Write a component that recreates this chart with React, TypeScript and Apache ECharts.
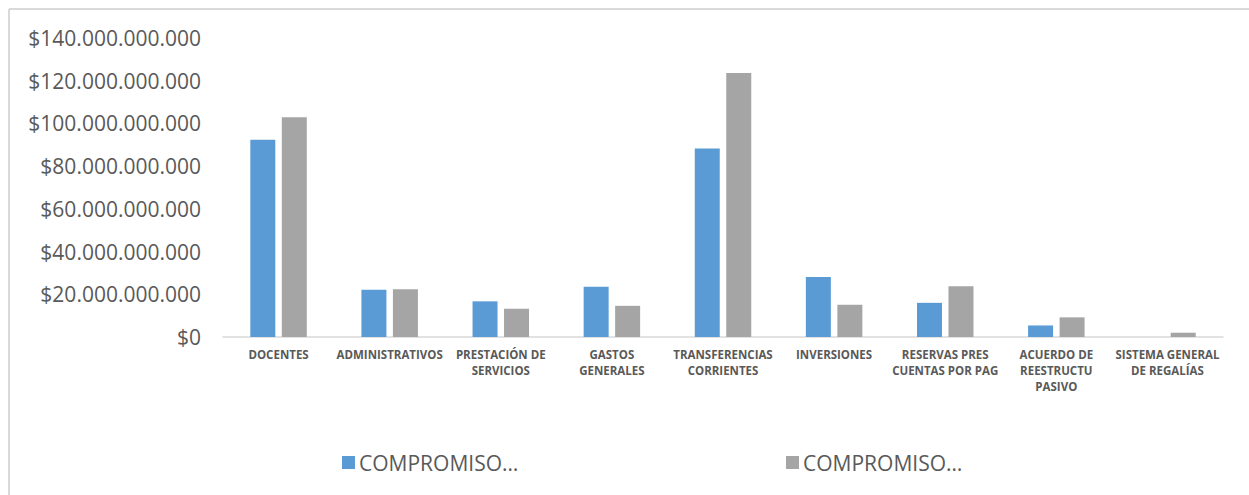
import React, { useEffect, useRef } from "react";
import * as echarts from "echarts";

const categories = [
  "DOCENTES",
  "ADMINISTRATIVOS",
  "PRESTACIÓN DE\nSERVICIOS",
  "GASTOS\nGENERALES",
  "TRANSFERENCIAS\nCORRIENTES",
  "INVERSIONES",
  "RESERVAS PRES\nCUENTAS POR PAG",
  "ACUERDO DE\nREESTRUCTU\nPASIVO",
  "SISTEMA GENERAL\nDE REGALÍAS",
];

const seriesNames = ["COMPROMISO… (1)", "COMPROMISO… (2)"];
const legendLabel = "COMPROMISO…";

const compromiso1 = [
  92400000000, 22100000000, 16700000000, 23500000000, 88300000000,
  28100000000, 16000000000, 5400000000, 0,
];
const compromiso2 = [
  102900000000, 22400000000, 13200000000, 14600000000, 123600000000,
  15100000000, 23800000000, 9200000000, 2000000000,
];

const yMin = 0;
const yMax = 140000000000;
const yInterval = 20000000000;

const colors = ["#5B9BD5", "#A5A5A5"];
const textColor = "#595959";
const font = "'Open Sans', 'DejaVu Sans', sans-serif";

function formatMoney(v: number): string {
  const s = Math.round(v).toString();
  return "$" + s.replace(/\B(?=(\d{3})+(?!\d))/g, ".");
}

export default function App() {
  const ref = useRef<HTMLDivElement>(null);

  useEffect(() => {
    if (!ref.current) return;
    const chart = echarts.init(ref.current, null, { renderer: "svg" });
    const legendText = {
      color: textColor,
      fontSize: 21,
      fontFamily: font,
      lineHeight: 20,
      padding: [0, 0, 0, -1],
    };
    chart.setOption({
      animation: false,
      backgroundColor: "#ffffff",
      grid: { left: 223, right: 26, top: 38, bottom: 158, containLabel: false },
      graphic: [
        {
          type: "line",
          shape: { x1: 9, y1: 9, x2: 1249, y2: 9 },
          style: { stroke: "#d9d9d9", lineWidth: 2 },
        },
        {
          type: "line",
          shape: { x1: 9, y1: 9, x2: 9, y2: 495 },
          style: { stroke: "#d9d9d9", lineWidth: 2 },
        },
      ],
      legend: [
        {
          data: [seriesNames[0]],
          left: 342,
          top: 452,
          padding: 0,
          itemWidth: 13,
          itemHeight: 13,
          icon: "rect",
          formatter: () => legendLabel,
          textStyle: legendText,
        },
        {
          data: [seriesNames[1]],
          left: 786,
          top: 452,
          padding: 0,
          itemWidth: 13,
          itemHeight: 13,
          icon: "rect",
          formatter: () => legendLabel,
          textStyle: legendText,
        },
      ],
      xAxis: {
        type: "category",
        data: categories,
        axisLine: { show: true, lineStyle: { color: "#d9d9d9", width: 1.5 } },
        axisTick: { show: false },
        axisLabel: {
          interval: 0,
          margin: 9,
          color: textColor,
          fontSize: 11.5,
          fontWeight: "bold",
          fontFamily: font,
          lineHeight: 16,
          align: "center",
        },
        splitLine: { show: false },
      },
      yAxis: {
        type: "value",
        min: yMin,
        max: yMax,
        interval: yInterval,
        axisLine: { show: false },
        axisTick: { show: false },
        splitLine: { show: false },
        axisLabel: {
          margin: 22,
          color: textColor,
          fontSize: 21,
          fontFamily: font,
          formatter: (v: number) => formatMoney(v),
        },
      },
      series: [
        {
          name: seriesNames[0],
          type: "bar",
          data: compromiso1,
          barWidth: 25,
          barGap: "26%",
          itemStyle: { color: colors[0] },
        },
        {
          name: seriesNames[1],
          type: "bar",
          data: compromiso2,
          barWidth: 25,
          barGap: "26%",
          itemStyle: { color: colors[1] },
        },
      ],
    });
    return () => chart.dispose();
  }, []);

  return (
    <div
      ref={ref}
      style={{ position: "fixed", left: 0, top: 0, width: 1249, height: 495 }}
    />
  );
}
